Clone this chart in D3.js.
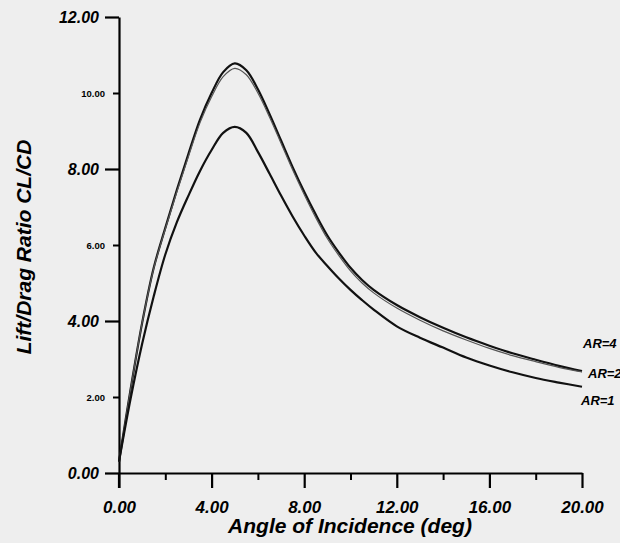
<!DOCTYPE html>
<html>
<head>
<meta charset="utf-8">
<script src="https://cdn.jsdelivr.net/npm/d3@7"></script>
<style>
  body { margin: 0; background: #eeeeee; }
  svg { display: block; font-family: "Liberation Sans", Arial, sans-serif; }
</style>
</head>
<body>
<svg id="chart" width="620" height="543"></svg>
<script>
// angle of incidence (deg)
const angles = [0, 0.5, 1, 1.5, 2, 2.5, 3, 3.5, 4, 4.5, 5, 5.5, 6, 6.5, 7, 7.5, 8, 8.5, 9, 9.5, 10, 10.5, 11, 12, 13, 14, 15, 16, 17, 18, 19, 20];

// lift/drag ratio CL/CD for each aspect ratio
const ar4 = [0.3, 2.2, 3.95, 5.4, 6.45, 7.45, 8.4, 9.3, 10.0, 10.55, 10.78, 10.6, 10.1, 9.45, 8.75, 8.05, 7.4, 6.8, 6.25, 5.8, 5.4, 5.08, 4.82, 4.42, 4.1, 3.82, 3.57, 3.35, 3.15, 2.98, 2.82, 2.68];
const ar2 = [0.3, 2.2, 3.95, 5.38, 6.42, 7.4, 8.33, 9.22, 9.9, 10.43, 10.65, 10.48, 10.0, 9.37, 8.68, 7.98, 7.33, 6.72, 6.17, 5.72, 5.32, 5.0, 4.74, 4.34, 4.02, 3.74, 3.5, 3.28, 3.09, 2.93, 2.78, 2.66];
const ar1 = [0.3, 1.95, 3.4, 4.65, 5.75, 6.6, 7.3, 7.95, 8.5, 8.95, 9.11, 8.95, 8.45, 7.88, 7.3, 6.75, 6.25, 5.8, 5.45, 5.12, 4.82, 4.55, 4.3, 3.86, 3.56, 3.3, 3.04, 2.83, 2.65, 2.5, 2.38, 2.27];

const seriesNames = ['AR=4', 'AR=2', 'AR=1'];

const xMajorTicks = [0, 4, 8, 12, 16, 20];
const xMinorTicks = [2, 6, 10, 14, 18];
const yMajorTicks = [0, 4, 8, 12];
const yMinorTicks = [2, 6, 10];

const svg = d3.select('#chart');

const x = d3.scaleLinear().domain([0, 20]).range([119, 582]);
const y = d3.scaleLinear().domain([0, 12]).range([473, 17]);

// x axis (ticks hang below the line)
const xMaj = svg.append('g')
  .attr('transform', 'translate(0,' + y(0) + ')')
  .call(d3.axisBottom(x).tickValues(xMajorTicks).tickSize(15).tickSizeOuter(0).tickFormat(d3.format('.2f')));
xMaj.select('.domain').attr('stroke-width', 2.2);
xMaj.selectAll('.tick line').attr('stroke-width', 2.2);
xMaj.selectAll('.tick text')
  .attr('y', 28)
  .attr('font-size', 17)
  .attr('font-weight', 'bold')
  .attr('font-style', 'italic')
  .attr('fill', '#000');

const xMin = svg.append('g')
  .attr('transform', 'translate(0,' + y(0) + ')')
  .call(d3.axisBottom(x).tickValues(xMinorTicks).tickSize(7).tickFormat(''));
xMin.select('.domain').remove();
xMin.selectAll('.tick line').attr('stroke-width', 2);

// y axis
const yMaj = svg.append('g')
  .attr('transform', 'translate(' + x(0) + ',0)')
  .call(d3.axisLeft(y).tickValues(yMajorTicks).tickSize(14).tickSizeOuter(0).tickFormat(d3.format('.2f')));
yMaj.select('.domain').attr('stroke-width', 2.2);
yMaj.selectAll('.tick line').attr('stroke-width', 2.2);
yMaj.selectAll('.tick text')
  .attr('x', -20)
  .attr('font-size', 16)
  .attr('font-weight', 'bold')
  .attr('font-style', 'italic')
  .attr('fill', '#000');

const yMin = svg.append('g')
  .attr('transform', 'translate(' + x(0) + ',0)')
  .call(d3.axisLeft(y).tickValues(yMinorTicks).tickSize(6).tickFormat(d3.format('.2f')));
yMin.select('.domain').remove();
yMin.selectAll('.tick line').attr('stroke-width', 2);
yMin.selectAll('.tick text')
  .attr('x', -14)
  .attr('font-size', 9.5)
  .attr('font-weight', 'bold')
  .attr('fill', '#000');

// y axis runs a little below the x axis
svg.append('line')
  .attr('x1', x(0)).attr('x2', x(0))
  .attr('y1', y(0)).attr('y2', y(0) + 15)
  .attr('stroke', '#000').attr('stroke-width', 2.2);

// curves
const line = d3.line()
  .x((d, i) => x(angles[i]))
  .y(d => y(d))
  .curve(d3.curveCatmullRom.alpha(0.5));

const series = [
  { name: seriesNames[0], values: ar4, color: '#111', width: 2.2 },
  { name: seriesNames[1], values: ar2, color: '#555', width: 1.2 },
  { name: seriesNames[2], values: ar1, color: '#111', width: 2.2 }
];

svg.append('g')
  .selectAll('path')
  .data(series)
  .enter()
  .append('path')
  .attr('d', d => line(d.values))
  .attr('fill', 'none')
  .attr('stroke', d => d.color)
  .attr('stroke-width', d => d.width);

// series labels at the right (clipped by the page edge as in the original)
const labelPos = [
  { x: 583, y: 348 },
  { x: 588, y: 378 },
  { x: 581, y: 405 }
];
svg.append('g')
  .selectAll('text')
  .data(series)
  .enter()
  .append('text')
  .attr('x', (d, i) => labelPos[i].x)
  .attr('y', (d, i) => labelPos[i].y)
  .attr('font-size', 13)
  .attr('font-weight', 'bold')
  .attr('font-style', 'italic')
  .attr('fill', '#000')
  .text(d => d.name);

// axis titles
svg.append('text')
  .attr('x', 350)
  .attr('y', 533)
  .attr('text-anchor', 'middle')
  .attr('font-size', 21)
  .attr('font-weight', 'bold')
  .attr('font-style', 'italic')
  .text('Angle of Incidence (deg)');

svg.append('text')
  .attr('transform', 'translate(31,247) rotate(-90)')
  .attr('text-anchor', 'middle')
  .attr('font-size', 21)
  .attr('font-weight', 'bold')
  .attr('font-style', 'italic')
  .text('Lift/Drag Ratio CL/CD');
</script>
</body>
</html>
